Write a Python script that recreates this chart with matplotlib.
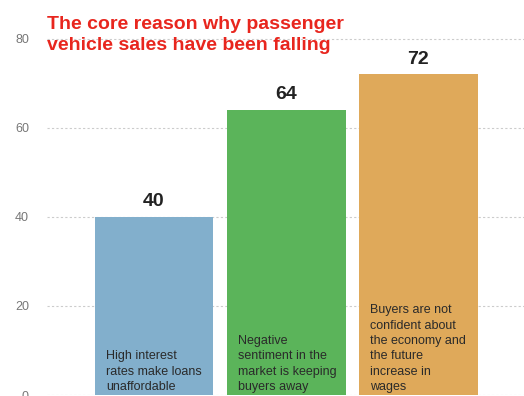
import matplotlib.pyplot as plt
import numpy as np

# data
reasons = [
    "High interest\nrates make loans\nunaffordable",
    "Negative\nsentiment in the\nmarket is keeping\nbuyers away",
    "Buyers are not\nconfident about\nthe economy and\nthe future\nincrease in\nwages",
]
values = [40, 64, 72]
bar_colors = ["#82afcc", "#5bb45a", "#dfa95a"]
yticks = [0, 20, 40, 60, 80]

plt.rcParams['font.family'] = ['Liberation Sans', 'DejaVu Sans']

fig = plt.figure(figsize=(5.24, 3.96), dpi=100)
ax = fig.add_axes([47 / 524, 0.0025, 1 - 47 / 524, 0.905])

x = np.arange(len(values))
bars = ax.bar(x, values, width=0.9, color=bar_colors, zorder=2)

ax.set_xlim(-0.81, 2.8)
ax.set_ylim(0, 80.5)
ax.set_yticks(yticks)
ax.set_xticks([])
ax.tick_params(axis='y', length=0, pad=13, labelsize=9, labelcolor="#777777")
ax.grid(axis='y', color="#cccccc", linestyle=(0, (2, 2)), linewidth=0.8, zorder=0)
for s in ax.spines.values():
    s.set_visible(False)

for b, v, txt in zip(bars, values, reasons):
    ax.text(b.get_x() + b.get_width() / 2, v + 1.5, str(v), ha='center', va='bottom',
            fontsize=14, fontweight='bold', color="#222222")
    ax.text(b.get_x() + 0.085, 0.4, txt, ha='left', va='bottom', fontsize=9,
            color="#2a2a2a", linespacing=1.38, zorder=3)

fig.text(47 / 524, 1 - 16 / 396, "The core reason why passenger\nvehicle sales have been falling",
         ha='left', va='top', fontsize=14, fontweight='bold', color="#e8261e",
         linespacing=1.3)

fig.savefig("out.png", dpi=100)
